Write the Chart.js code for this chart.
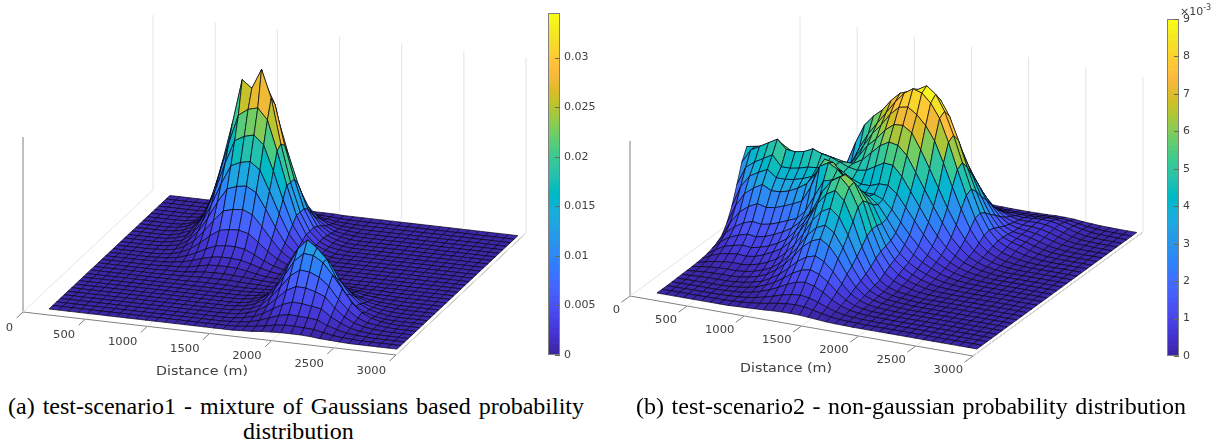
<!DOCTYPE html>
<html>
<head>
<meta charset="utf-8">
<title>Probability surfaces</title>
<script src="https://cdn.jsdelivr.net/npm/chart.js@4"></script>
<style>
  html, body { margin: 0; padding: 0; background: #fff; }
  #page { position: relative; width: 1225px; height: 442px; overflow: hidden; }
  canvas { position: absolute; top: 0; }
  .caption { position: absolute; font-family: "Liberation Serif", serif; font-size: 24px; line-height: 25px; color: #000; white-space: nowrap; }
  .just { text-align: justify; text-align-last: justify; white-space: normal; }
  #expo { position: absolute; left: 1180px; top: 5px; font: 11px "DejaVu Sans", sans-serif; color: #404040; }
  #expo sup { font-size: 8px; line-height: 0; }
</style>
</head>
<body>
<div id="page">
  <canvas id="surf1" width="545" height="385" style="left:0"></canvas>
  <canvas id="bar1" width="70" height="385" style="left:540px"></canvas>
  <canvas id="surf2" width="545" height="385" style="left:612px"></canvas>
  <canvas id="bar2" width="58" height="385" style="left:1159px"></canvas>
  <div id="expo">×10<sup>-3</sup></div>
  <div class="caption just" style="left:8px;top:394px;width:576px">(a) test-scenario1 - mixture of Gaussians based probability</div>
  <div class="caption" style="left:243px;top:419px">distribution</div>
  <div class="caption just" style="left:636px;top:394px;width:550px">(b) test-scenario2 - non-gaussian probability distribution</div>
</div>

<script>
/* =========================================
   DATA
   -----------------------------------------
   Heights.
   Rows go front to back, columns left to right.
   scenario1Z is in units of 1e-4,
   scenario2Z is in units of 1e-5.
========================================= */
const xTicks = [0, 500, 1000, 1500, 2000, 2500, 3000];
const xLabel = "Distance (m)";
const barTicks1 = [0, 0.005, 0.01, 0.015, 0.02, 0.025, 0.03];
const barTicks2 = [0, 1, 2, 3, 4, 5, 6, 7, 8, 9];

const scenario1Z = [
[0,0,0,0,0,0,0,0,0,0,0,0,0,0,0,0,0,0,0,0,1,2,4,5,6,6,6,5,3,2,1,0,0,0,0,0,0],
[0,0,0,0,0,0,0,0,0,0,0,0,0,0,0,0,0,0,0,1,3,5,8,12,14,14,13,12,8,4,2,1,0,0,0,0,0],
[0,0,0,0,0,0,0,0,0,0,0,0,0,0,0,0,0,0,1,2,5,10,17,24,28,27,26,24,15,9,4,2,1,0,0,0,0],
[0,0,0,0,0,0,0,0,0,0,0,0,0,0,0,0,0,0,1,4,8,17,28,39,46,45,42,39,25,15,7,3,1,0,0,0,0],
[0,0,0,0,0,0,0,0,0,0,0,0,0,0,0,0,0,1,2,6,13,25,42,60,70,69,64,56,36,20,10,5,2,1,0,0,0],
[0,0,0,0,0,0,0,0,0,0,0,0,0,0,0,0,0,1,3,8,17,35,58,82,96,94,86,70,46,27,13,6,3,1,0,0,0],
[0,0,0,0,0,0,0,0,0,0,0,0,0,0,0,0,0,1,4,10,22,44,73,104,122,120,108,85,60,34,17,8,3,1,0,0,0],
[0,0,0,0,0,0,0,0,0,0,0,0,0,0,0,0,0,1,4,11,26,51,85,121,142,128,108,72,42,20,10,4,1,0,0,0,0],
[0,0,0,0,0,0,0,0,0,0,0,0,0,0,0,0,0,1,4,10,23,45,75,106,125,112,92,60,35,18,9,4,1,0,0,0,0],
[0,0,0,0,0,0,0,0,0,0,0,0,0,0,0,0,0,1,3,7,16,32,54,76,90,80,66,44,25,12,6,3,1,0,0,0,0],
[0,0,0,0,0,0,0,0,0,0,0,0,0,0,0,0,0,1,2,4,10,20,33,47,55,50,41,27,15,8,4,2,1,0,0,0,0],
[0,0,0,0,0,0,0,0,0,0,0,1,1,1,1,0,0,0,1,2,5,11,18,26,30,27,22,15,8,4,2,1,0,0,0,0,0],
[0,0,0,0,0,0,0,0,1,1,2,3,3,3,3,2,1,1,0,1,3,5,8,12,14,14,13,9,5,3,1,1,0,0,0,0,0],
[0,0,0,0,0,0,0,1,1,2,4,6,7,7,6,5,3,2,1,0,1,2,4,5,6,6,6,4,2,1,1,0,0,0,0,0,0],
[0,0,0,0,0,0,1,2,3,5,9,13,14,14,13,10,6,3,1,1,0,1,1,2,2,2,2,1,1,1,0,0,0,0,0,0,0],
[0,0,0,0,0,1,1,3,6,11,17,22,24,24,22,17,11,6,3,1,0,0,0,0,0,0,0,0,0,0,0,0,0,0,0,0,0],
[0,0,0,0,0,1,2,5,11,19,29,37,40,40,37,28,18,10,5,2,1,0,0,0,0,0,0,0,0,0,0,0,0,0,0,0,0],
[0,0,0,0,0,1,3,9,18,32,48,61,65,66,61,46,30,17,8,3,1,0,0,0,0,0,0,0,0,0,0,0,0,0,0,0,0],
[0,0,0,0,1,2,5,13,27,48,72,93,98,100,92,70,46,25,12,5,2,1,0,0,0,0,0,0,0,0,0,0,0,0,0,0,0],
[0,0,0,0,1,3,7,18,38,67,101,130,137,140,129,98,64,35,17,7,3,1,0,0,0,0,0,0,0,0,0,0,0,0,0,0,0],
[0,0,0,0,1,4,9,24,49,87,131,169,178,182,167,127,84,46,22,9,4,1,0,0,0,0,0,0,0,0,0,0,0,0,0,0,0],
[0,0,0,0,1,5,11,30,62,109,164,212,223,228,210,160,105,57,27,11,5,1,0,0,0,0,0,0,0,0,0,0,0,0,0,0,0],
[0,0,0,0,1,6,14,36,74,132,198,256,270,275,253,193,127,69,33,14,6,1,0,0,0,0,0,0,0,0,0,0,0,0,0,0,0],
[0,0,0,0,2,6,16,42,86,154,232,320,305,345,290,200,125,68,32,14,5,2,0,0,0,0,0,0,0,0,0,0,0,0,0,0,0],
[0,0,0,0,2,7,17,44,90,160,240,295,300,310,270,190,125,68,33,14,6,2,0,0,0,0,0,0,0,0,0,0,0,0,0,0,0],
[0,0,0,0,1,6,14,36,76,134,202,250,262,265,230,165,108,60,28,12,5,1,0,0,0,0,0,0,0,0,0,0,0,0,0,0,0],
[0,0,0,0,1,4,10,27,57,100,151,190,200,195,170,125,82,45,22,9,4,1,0,0,0,0,0,0,0,0,0,0,0,0,0,0,0],
[0,0,0,0,1,3,7,18,38,67,101,127,133,130,112,84,55,30,15,6,3,1,0,0,0,0,0,0,0,0,0,0,0,0,0,0,0],
[0,0,0,0,0,2,4,11,23,41,61,79,83,85,78,60,39,21,10,4,2,0,0,0,0,0,0,0,0,0,0,0,0,0,0,0,0],
[0,0,0,0,0,1,2,6,12,22,32,42,44,45,41,32,21,11,5,2,1,0,0,0,0,0,0,0,0,0,0,0,0,0,0,0,0],
[0,0,0,0,0,0,1,3,5,10,14,19,20,20,18,14,9,5,2,1,0,0,0,0,0,0,0,0,0,0,0,0,0,0,0,0,0],
[0,0,0,0,0,0,0,1,2,3,5,7,7,7,6,5,3,2,1,0,0,0,0,0,0,0,0,0,0,0,0,0,0,0,0,0,0],
[0,0,0,0,0,0,0,0,1,1,1,2,2,2,2,1,1,1,0,0,0,0,0,0,0,0,0,0,0,0,0,0,0,0,0,0,0]
];

const scenario2Z = [
[0,0,0,0,0,0,0,0,0,3,5,8,10,14,16,17,16,12,8,4,2,1,0,0,0,0,0,0,0,0,0,0,0,0,0,0,0],
[0,1,1,1,1,1,2,2,4,7,12,18,27,36,43,46,42,33,21,11,5,3,1,0,0,0,0,0,0,0,0,0,0,0,0,0,0],
[0,1,1,2,2,2,3,5,8,13,22,33,48,64,75,81,73,57,37,20,9,5,2,1,0,0,0,0,0,0,0,0,0,0,0,0,0],
[1,2,3,3,3,3,5,8,13,22,37,54,78,105,125,134,120,94,60,33,16,8,4,2,1,0,0,0,0,0,0,0,0,0,0,0,0],
[2,3,4,5,5,5,8,12,20,32,52,78,110,148,174,186,168,131,84,46,22,11,5,3,1,0,0,0,0,0,0,0,0,0,0,0,0],
[3,5,8,9,10,10,13,19,29,44,70,104,146,195,229,245,220,172,110,60,30,15,8,4,2,0,0,0,0,0,0,0,0,0,0,0,0],
[4,9,13,15,17,16,20,29,42,62,97,140,194,258,301,322,290,225,144,79,38,19,10,5,2,0,0,0,0,0,0,0,0,0,0,0,0],
[5,14,21,25,27,26,31,41,58,81,120,170,232,306,357,381,345,267,170,94,46,23,11,6,3,0,0,0,0,0,0,0,0,0,0,0,0],
[7,21,32,39,44,42,48,62,82,110,155,212,284,370,430,458,415,320,204,113,55,27,14,7,3,0,0,0,0,0,0,0,0,0,0,0,0],
[10,36,55,65,72,68,76,95,120,150,200,265,345,445,510,540,490,377,240,133,64,32,16,9,4,0,0,0,0,0,0,0,0,0,0,0,0],
[15,50,78,92,102,97,108,125,150,184,240,305,390,495,565,598,545,440,280,160,85,48,28,16,7,3,1,0,0,0,0,0,0,0,0,0,0],
[25,75,110,130,145,138,150,170,195,225,275,330,405,505,560,590,555,455,300,180,105,62,38,22,10,4,2,0,0,0,0,0,0,0,0,0,0],
[38,105,150,180,198,190,200,218,240,260,315,410,505,520,525,530,500,425,300,190,120,78,50,30,15,7,3,1,0,0,0,0,0,0,0,0,0],
[60,147,214,254,280,267,275,293,315,340,430,560,590,560,510,480,450,390,290,200,135,92,62,40,22,12,6,2,1,0,0,0,0,0,0,0,0],
[110,220,300,340,370,343,345,360,385,420,490,580,570,510,460,430,410,370,300,225,165,115,80,55,32,18,9,4,2,0,0,0,0,0,0,0,0],
[186,310,380,410,437,397,397,405,420,440,490,530,510,460,420,400,400,380,330,265,200,145,100,68,42,24,13,6,2,0,0,0,0,0,0,0,0],
[290,400,440,470,500,440,440,450,465,470,490,500,470,440,420,420,440,440,400,330,260,190,130,88,55,32,18,9,4,0,0,0,0,0,0,0,0],
[400,480,510,540,570,520,515,525,550,530,520,500,480,470,480,510,540,535,480,400,320,240,170,112,72,42,24,12,5,0,0,0,0,0,0,0,0],
[470,480,490,500,520,490,480,490,510,500,490,480,480,510,560,610,640,630,580,490,400,310,225,150,95,55,30,15,6,0,0,0,0,0,0,0,0],
[380,395,400,410,430,400,400,410,420,420,430,445,500,570,620,680,720,725,690,600,500,395,290,200,125,70,38,20,9,3,0,0,0,0,0,0,0],
[280,295,300,310,320,300,300,310,320,340,385,460,540,620,680,750,800,810,775,720,640,520,390,270,165,92,50,26,13,5,2,0,0,0,0,0,0],
[200,215,220,230,240,225,230,240,265,305,390,500,590,660,730,800,860,895,880,830,750,620,470,330,205,115,62,35,20,9,3,0,0,0,0,0,0],
[130,138,140,148,155,145,165,195,265,370,500,610,670,715,780,830,850,870,900,860,770,640,490,345,215,125,72,45,30,16,7,2,0,0,0,0,0],
[82,88,90,95,100,100,118,155,230,340,490,610,650,690,740,800,790,820,840,805,720,590,440,310,195,115,72,52,38,22,10,4,1,0,0,0,0],
[45,48,50,55,58,62,78,112,175,265,410,560,640,670,690,690,720,700,720,670,590,490,375,260,165,100,68,52,40,26,13,5,2,0,0,0,0],
[22,24,25,28,30,35,48,80,128,200,310,420,500,540,570,600,580,600,580,540,480,400,310,220,140,85,62,55,44,30,16,7,2,0,0,0,0],
[10,11,12,14,16,20,30,52,88,150,230,310,380,430,465,470,470,470,460,430,385,320,240,170,110,75,60,55,48,34,20,9,3,1,0,0,0],
[4,5,5,6,8,11,18,32,56,100,160,225,285,320,335,340,340,340,333,310,275,225,175,125,85,65,58,58,52,40,24,11,4,2,0,0,0],
[1,2,2,3,4,6,10,20,36,62,100,145,180,205,215,220,220,220,215,200,178,145,115,90,70,58,58,60,56,44,28,14,5,2,0,0,0],
[0,1,1,1,2,3,5,11,21,36,60,85,108,120,127,130,130,130,127,120,105,88,72,60,52,50,54,58,56,46,30,15,6,2,1,0,0],
[0,0,0,1,1,2,3,6,12,20,33,46,58,65,68,70,70,70,68,65,58,50,44,40,38,38,42,46,46,38,26,14,6,2,1,0,0],
[0,0,0,0,0,1,1,3,6,10,17,24,29,33,34,35,35,35,34,33,30,26,24,22,22,24,28,30,30,26,17,10,4,2,1,0,0],
[0,0,0,0,0,0,1,1,3,4,7,10,12,14,15,15,15,15,15,14,13,12,11,11,11,12,13,15,15,13,8,5,2,1,0,0,0]
];

// colormap used by both surfaces and both colorbars
const parula = [
[.2422,.1504,.6603],[.2504,.1650,.7076],[.2578,.1818,.7511],[.2647,.1978,.7952],
[.2706,.2147,.8364],[.2751,.2342,.8710],[.2783,.2559,.8991],[.2803,.2782,.9221],
[.2813,.3006,.9414],[.2810,.3228,.9579],[.2795,.3447,.9717],[.2760,.3667,.9829],
[.2699,.3892,.9906],[.2602,.4123,.9952],[.2440,.4358,.9988],[.2206,.4603,.9973],
[.1963,.4847,.9892],[.1834,.5074,.9798],[.1786,.5289,.9682],[.1764,.5499,.9520],
[.1687,.5703,.9359],[.1540,.5902,.9218],[.1460,.6091,.9079],[.1380,.6276,.8973],
[.1248,.6459,.8883],[.1113,.6635,.8763],[.0952,.6798,.8598],[.0689,.6948,.8394],
[.0297,.7082,.8163],[.0036,.7203,.7917],[.0067,.7312,.7660],[.0433,.7411,.7394],
[.0964,.7500,.7120],[.1408,.7584,.6842],[.1717,.7670,.6554],[.1938,.7758,.6251],
[.2161,.7843,.5923],[.2470,.7918,.5567],[.2906,.7973,.5188],[.3406,.8008,.4789],
[.3909,.8029,.4354],[.4456,.8024,.3909],[.5044,.7993,.3480],[.5616,.7942,.3045],
[.6174,.7876,.2612],[.6720,.7793,.2227],[.7242,.7698,.1910],[.7738,.7598,.1646],
[.8203,.7498,.1535],[.8634,.7406,.1596],[.9035,.7330,.1774],[.9393,.7288,.2100],
[.9728,.7298,.2394],[.9956,.7434,.2371],[.9970,.7659,.2199],[.9952,.7893,.2028],
[.9892,.8136,.1885],[.9786,.8386,.1766],[.9676,.8639,.1643],[.9610,.8890,.1537],
[.9597,.9135,.1423],[.9628,.9373,.1265],[.9691,.9606,.1064],[.9769,.9839,.0805]
];
const parulaCss = parula.map(c => `rgb(${Math.round(c[0]*255)},${Math.round(c[1]*255)},${Math.round(c[2]*255)})`);


/* =========================================
   VIEW SETUP
   -----------------------------------------
   The surfaces are an orthographic 3D view,
   so each panel only needs its origin and
   the screen vectors of the three box axes.
========================================= */
const view1 = {
    origin: [23, 312], xVec: [373, 43], yVec: [130, -122], zVec: [0, -175],
    zUnit: 1e-4, zTop: 0.035, colorMax: 0.0345,
    meshX: [163, 2962], meshY: [0.0438, 0.974],
    labelAt: [202, 372], labelDy: 16
};
const view2 = {
    origin: [18, 296], xVec: [343, 60], yVec: [170, -124], zVec: [0, -155],
    zUnit: 1e-5, zTop: 0.009, colorMax: 0.009,
    meshX: [161, 2960], meshY: [0.0502, 0.99],
    labelAt: [174, 369], labelDy: 14
};

// x in metres, y as a fraction of the box depth, z as a fraction of the box height
function project(view, x, y, z) {
    const xf = x / 3000;
    return {
        x: view.origin[0] + xf * view.xVec[0] + y * view.yVec[0] + z * view.zVec[0],
        y: view.origin[1] + xf * view.xVec[1] + y * view.yVec[1] + z * view.zVec[1]
    };
}

function colorFor(value, max) {
    const idx = Math.min(parulaCss.length - 1, Math.floor(value / max * parulaCss.length));
    return parulaCss[idx];
}


/* =========================================
   SURFACE PLUGIN
   -----------------------------------------
   Dataset 0 holds the grid nodes. The facets
   are painted back to front from the pixels
   the scales gave to those nodes.
========================================= */
const surfacePlugin = {
    id: "surface",
    afterDatasetsDraw(chart, args, opts) {
        const ctx = chart.ctx;
        const pts = chart.getDatasetMeta(0).data;
        const rows = opts.grid.length;
        const cols = opts.grid[0].length;
        ctx.save();
        ctx.lineWidth = 0.8;
        ctx.strokeStyle = "rgba(5,5,20,0.88)";
        ctx.lineJoin = "round";
        for (let r = rows - 2; r >= 0; r--) {
            for (let c = 0; c < cols - 1; c++) {
                const a = pts[r * cols + c], b = pts[r * cols + c + 1];
                const d = pts[(r + 1) * cols + c + 1], e = pts[(r + 1) * cols + c];
                ctx.beginPath();
                ctx.moveTo(a.x, a.y);
                ctx.lineTo(b.x, b.y);
                ctx.lineTo(d.x, d.y);
                ctx.lineTo(e.x, e.y);
                ctx.closePath();
                ctx.fillStyle = colorFor(opts.grid[r][c] * opts.view.zUnit, opts.view.colorMax);
                ctx.fill();
                ctx.stroke();
            }
        }
        ctx.restore();
    },
    afterDraw(chart, args, opts) {
        const ctx = chart.ctx;
        const view = opts.view;
        const sx = chart.scales.x, sy = chart.scales.y;
        ctx.save();
        ctx.fillStyle = "#404040";
        ctx.textBaseline = "middle";
        xTicks.forEach(t => {
            const p = project(view, t, 0, 0);
            ctx.save();
            ctx.translate(sx.getPixelForValue(p.x) - 10, sy.getPixelForValue(p.y) + view.labelDy);
            ctx.scale(1.1, 1);
            ctx.font = '10.5px "DejaVu Sans"';
            ctx.textAlign = "right";
            ctx.fillText(String(t), 0, 0);
            ctx.restore();
        });
        ctx.translate(sx.getPixelForValue(view.labelAt[0]), sy.getPixelForValue(view.labelAt[1]));
        ctx.scale(1.19, 1);
        ctx.font = '12px "DejaVu Sans"';
        ctx.textAlign = "center";
        ctx.fillText(xLabel, 0, 0);
        ctx.restore();
    }
};

function buildBoxLines(view) {
    const out = [];
    const line = (pts, color) => out.push({
        data: pts, showLine: true, pointRadius: 0, borderWidth: 1, borderColor: color
    });

    // light grid on floor and back wall, one per x tick
    xTicks.forEach(t => {
        line([project(view, t, 0, 0), project(view, t, 1, 0), project(view, t, 1, 1)], "#e4e4e4");
    });

    // dark box axes and tick marks
    line([project(view, 0, 0, 0), project(view, 3000, 0, 0)], "#808080");
    line([project(view, 3000, 0, 0), project(view, 3000, 1, 0)], "#808080");
    line([project(view, 0, 0, 0), project(view, 0, 0, 1)], "#808080");
    xTicks.forEach(t => {
        line([project(view, t, 0, 0), project(view, t, -0.05, 0)], "#808080");
    });
    return out;
}

function drawSurface(canvasId, grid, view) {
    const rows = grid.length, cols = grid[0].length;
    const nodes = [];
    for (let r = 0; r < rows; r++) {
        for (let c = 0; c < cols; c++) {
            const x = view.meshX[0] + (view.meshX[1] - view.meshX[0]) * c / (cols - 1);
            const y = view.meshY[0] + (view.meshY[1] - view.meshY[0]) * r / (rows - 1);
            nodes.push(project(view, x, y, grid[r][c] * view.zUnit / view.zTop));
        }
    }
    const canvas = document.getElementById(canvasId);
    new Chart(canvas, {
        type: "scatter",
        data: {
            datasets: [{ data: nodes, pointRadius: 0, showLine: false }].concat(buildBoxLines(view))
        },
        options: {
            responsive: false,
            animation: false,
            events: [],
            layout: { padding: 0 },
            scales: {
                x: { type: "linear", display: false, min: 0, max: canvas.width },
                y: { type: "linear", display: false, min: 0, max: canvas.height, reverse: true }
            },
            plugins: {
                legend: { display: false },
                tooltip: { enabled: false },
                surface: { grid: grid, view: view }
            }
        },
        plugins: [surfacePlugin]
    });
}


/* =========================================
   COLORBARS
   -----------------------------------------
   One stacked column, one dataset per
   colormap entry, on a right-hand axis.
========================================= */
const barFramePlugin = {
    id: "barFrame",
    afterDraw(chart) {
        const ctx = chart.ctx;
        const a = chart.chartArea;
        const sy = chart.scales.y;
        ctx.save();
        ctx.strokeStyle = "#808080";
        ctx.lineWidth = 1;
        ctx.strokeRect(a.left + 0.5, a.top + 0.5, a.right - a.left - 1, a.bottom - a.top - 1);
        ctx.strokeStyle = "#6a6a50";
        sy.ticks.forEach(t => {
            const y = Math.round(sy.getPixelForValue(t.value)) + 0.5;
            ctx.beginPath();
            ctx.moveTo(a.right - 5, y);
            ctx.lineTo(a.right, y);
            ctx.stroke();
        });
        ctx.restore();
    }
};

function drawColorbar(canvasId, max, ticks, pad) {
    const step = max / parulaCss.length;
    new Chart(document.getElementById(canvasId), {
        type: "bar",
        data: {
            labels: [""],
            datasets: parulaCss.map(color => ({
                data: [step], backgroundColor: color, borderColor: color, borderWidth: 0,
                barPercentage: 1, categoryPercentage: 1, stack: "bar"
            }))
        },
        options: {
            responsive: false,
            animation: false,
            events: [],
            layout: { padding: pad },
            scales: {
                x: { display: false, stacked: true },
                y: {
                    position: "right", stacked: true, min: 0, max: max,
                    grid: { display: false, drawTicks: false, tickLength: 0 }, border: { display: false },
                    afterBuildTicks: s => { s.ticks = ticks.map(v => ({ value: v })); },
                    afterFit: s => { s.width = pad.scaleW; },
                    ticks: {
                        color: "#404040", padding: 4, autoSkip: false,
                        font: { family: "DejaVu Sans", size: 11 },
                        callback: v => String(v)
                    }
                }
            },
            plugins: { legend: { display: false }, tooltip: { enabled: false } }
        },
        plugins: [barFramePlugin]
    });
}

drawSurface("surf1", scenario1Z, view1);
drawSurface("surf2", scenario2Z, view2);
drawColorbar("bar1", 0.0345, barTicks1, { left: 8, top: 13, bottom: 30, right: 0, scaleW: 50 });
drawColorbar("bar2", 9, barTicks2, { left: 8, top: 19, bottom: 29, right: 0, scaleW: 38 });
</script>
</body>
</html>
